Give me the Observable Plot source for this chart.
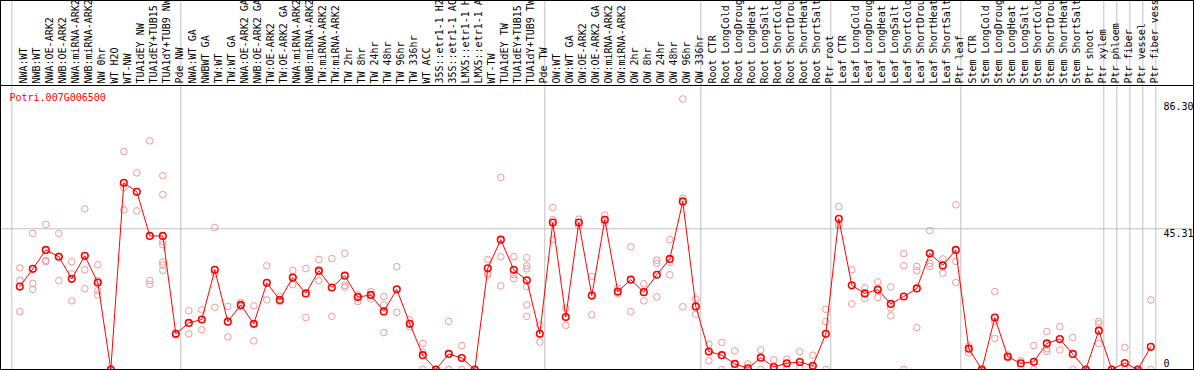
<!DOCTYPE html>
<html><head><meta charset="utf-8">
<script src="https://cdn.jsdelivr.net/npm/d3@7"></script>
<script src="https://cdn.jsdelivr.net/npm/@observablehq/plot@0.6"></script>
<style>
html,body{margin:0;padding:0;background:#fff;}
#chart svg{display:block;outline:1px solid #000;outline-offset:-1px;}
</style></head><body><div id="chart"></div>
<script>
const geneId = "Potri.007G006500";
const categories = [
  "NWA:WT","NWB:WT","NWA:OE-ARK2","NWB:OE-ARK2","NWA:miRNA-ARK2","NWB:miRNA-ARK2","NW 0hr","WT H2O","WT-NW","TUA1dEY NW","TUA1dEY+TUB15 NW","TUA1dY+TUB9 NW","Pde NW",
  "NWA:WT GA","NWBWT GA","TW:WT","TW:WT GA","NWA:OE-ARK2 GA","NWB:OE-ARK2 GA","TW:OE-ARK2","TW:OE-ARK2 GA","NWA:miRNA-ARK2 GA","NWB:miRNA-ARK2 GA","TW:miRNA-ARK2","TW:miRNA-ARK2 GA",
  "TW 2hr","TW 8hr","TW 24hr","TW 48hr","TW 96hr","TW 336hr","WT ACC","35S::etr1-1 H2O","35S::etr1-1 ACC","LMX5::etr1-1 H2O","LMX5::etr1-1 ACC","WT-TW","TUA1dEY TW","TUA1dEY+TUB15 TW","TUA1dY+TUB9 TW","Pde TW",
  "OW:WT","OW:WT GA","OW:OE-ARK2","OW:OE-ARK2 GA","OW:miRNA-ARK2","OW:miRNA-ARK2 GA","OW 2hr","OW 8hr","OW 24hr","OW 48hr","OW 96hr","OW 336hr",
  "Root CTR","Root LongCold","Root LongDrought","Root LongHeat","Root LongSalt","Root ShortCold","Root ShortDrought","Root ShortHeat","Root ShortSalt","Ptr root",
  "Leaf CTR","Leaf LongCold","Leaf LongDrought","Leaf LongHeat","Leaf LongSalt","Leaf ShortCold","Leaf ShortDrought","Leaf ShortHeat","Leaf ShortSalt","Ptr leaf",
  "Stem CTR","Stem LongCold","Stem LongDrought","Stem LongHeat","Stem LongSalt","Stem ShortCold","Stem ShortDrought","Stem ShortHeat","Stem ShortSalt","Ptr shoot","Ptr xylem",
  "Ptr phloem","Ptr fiber","Ptr vessel","Ptr fiber vessel"
];
const meanValues = [
  26.7,32.4,38.5,36.3,29.2,36.6,28.0,0,60.1,57.2,43.0,43.0,11.5,
  15.0,16.1,32.1,15.4,20.8,14.7,27.9,22.4,29.6,24.5,31.8,26.4,
  30.2,23.3,24.0,18.7,25.8,14.7,4.6,0,5.0,3.7,0,32.6,41.8,32.1,28.7,11.5,
  47.3,16.9,47.3,23.8,48.2,25.1,28.9,24.9,30.5,35.6,54.1,20.3,
  5.8,4.6,1.8,0.4,3.8,0.8,2.0,2.4,1.2,11.5,
  48.5,27.1,24.5,25.7,21.1,23.5,26.1,37.4,33.5,38.5,
  6.7,0,16.7,4.1,2.0,2.5,8.4,9.8,5.0,0,12.5,
  0,2.1,0,7.3
];
const replicateValues = [
  [32.7,28.7,18.6],[43.8,27.7,25.8],[46.7,35.1,34.7],[43.8,28.6,36.5],[34.7,30.8,22.1],[51.7,32.1,26.0],[33.7,28.6,25.4,24.0],[0,0,0],[70.2,58.6,51.4],[63.3,51.1],[73.6,28.6,27.4],[62.4,56.3,41.2,40.2,34.6,33.7,31.9],[11.5,11.2],
  [18.9,11.5],[19.2,12.8],[45.7,31.0,20.0],[20.3,10.5],[21.6,20.3,20.6],[20.5,9.2],[33.4,22.4],[23.5,21.9],[31.9,27.3,29.6],[32.5,16.7],[35.4,28.6,31.5],[35.7,17.1],
  [37.4,27.1,26.5],[24.0,21.9,23.5],[25.1,22.7,24.0],[23.5,20.8,11.9],[33.1,18.4],[16.0,13.8],[8.4,5.6,0.1],[0,0],[15.5,0,0],[7.7,0],[0,0],[35.4,31.0,30.4],[61.8,36.3,26.9],[36.3,30.5,29.2],[36.0,33.4,32.4,26.7,20.8,17.1],[14.3,8.8],
  [52.1,48.2,41.8],[19.8,14.2],[48.4,46.2],[30.0,17.6],[49.7,47.1],[26.2,24.4],[39.5,18.6],[27.6,22.1],[35.2,34.2,23.4],[41.8,34.5,30.5],[87.1,55.1,20.2],[22.7,17.8],
  [8.2,2.8],[8.7,0],[6.0,0.4],[1.8,0],[6.3,0],[3.1,0],[3.3,0.4],[5.7,0.4],[4.6,0],[19.4,15.4,0],
  [52.4,46.8,46.3],[32.1,21.1],[26.3,22.9],[28.2,23.2],[26.6,19.8,17.3],[37.3,33.4,0],[33.2,31.8,13.5],[44.7,34.2,33.2],[35.6,31.0],[53.0,34.8,28.0],
  [7.6,5.3],[0,0],[25.1,15.4,10.0],[4.7,3.7],[2.9,1.0],[7.7,0],[12.2,6.7,5.8],[13.8,6.3],[10.3,0],[0,0],[15.5,14.7,8.4],
  [0,0],[7.1,0],[0,0],[22.4,0]
];
const groupStarts = [0,13,41,53,63,73,84,85,86,87,88];
const yTickValues = [0,45.31,86.30];
const yTickLabels = ["0","45.31","86.30"];
const yGridValues = [45.31];

const idx = categories.map((_, i) => i);
const means = meanValues.map((v, i) => ({i, v}));
const reps = replicateValues.flatMap((vals, i) => vals.map(v => ({i, v})));
const yTicks = yTickValues.map((v, k) => ({v, label: yTickLabels[k]}));

const FONT = "'DejaVu Sans Mono', monospace";
const YMAX = 91.1;

const chart = Plot.plot({
  width: 1194, height: 370,
  marginTop: 86, marginBottom: 1, marginLeft: 0, marginRight: 0,
  style: {fontFamily: FONT, fontSize: "10px", background: "#fff"},
  x: {type: "linear", domain: [0, categories.length - 1], range: [19.3, 1150.3], axis: null},
  y: {type: "linear", domain: [0, YMAX], range: [369, 86], axis: null},
  marks: [
    Plot.ruleX(groupStarts, {x: d => d, dx: -8, stroke: "#c0c0c0", strokeWidth: 1, insetTop: -90}),
    Plot.ruleY(yGridValues, {y: d => d, stroke: "#c0c0c0", strokeWidth: 1}),
    Plot.ruleY([YMAX], {y: d => d, stroke: "#000", strokeWidth: 1, dy: -1}),
    Plot.text(idx, {x: d => d, text: d => categories[d], frameAnchor: "top", dy: -3, rotate: -90, textAnchor: "start", fill: "#000"}),
    Plot.text([geneId], {text: d => d, frameAnchor: "top-left", dx: 9, dy: 11, textAnchor: "start", lineAnchor: "middle", fill: "#ff0000"}),
    Plot.text(yTicks.filter(d => d.v > 0), {y: "v", text: "label", frameAnchor: "right", dx: -31, textAnchor: "start", dy: 5, fill: "#000"}),
    Plot.text(yTicks.filter(d => d.v === 0), {y: "v", text: "label", frameAnchor: "right", dx: -31, textAnchor: "start", dy: -6, fill: "#000"}),
    Plot.dot(reps, {x: "i", y: "v", r: 3.3, stroke: "#ec9a9a", strokeWidth: 1, fill: "none"}),
    Plot.line(means, {x: "i", y: "v", stroke: "#ff0000", strokeWidth: 1}),
    Plot.dot(means, {x: "i", y: "v", r: 3.3, stroke: "#ff0000", strokeWidth: 1.6, fill: "none"})
  ]
});
document.getElementById("chart").appendChild(chart);
</script>
</body></html>
